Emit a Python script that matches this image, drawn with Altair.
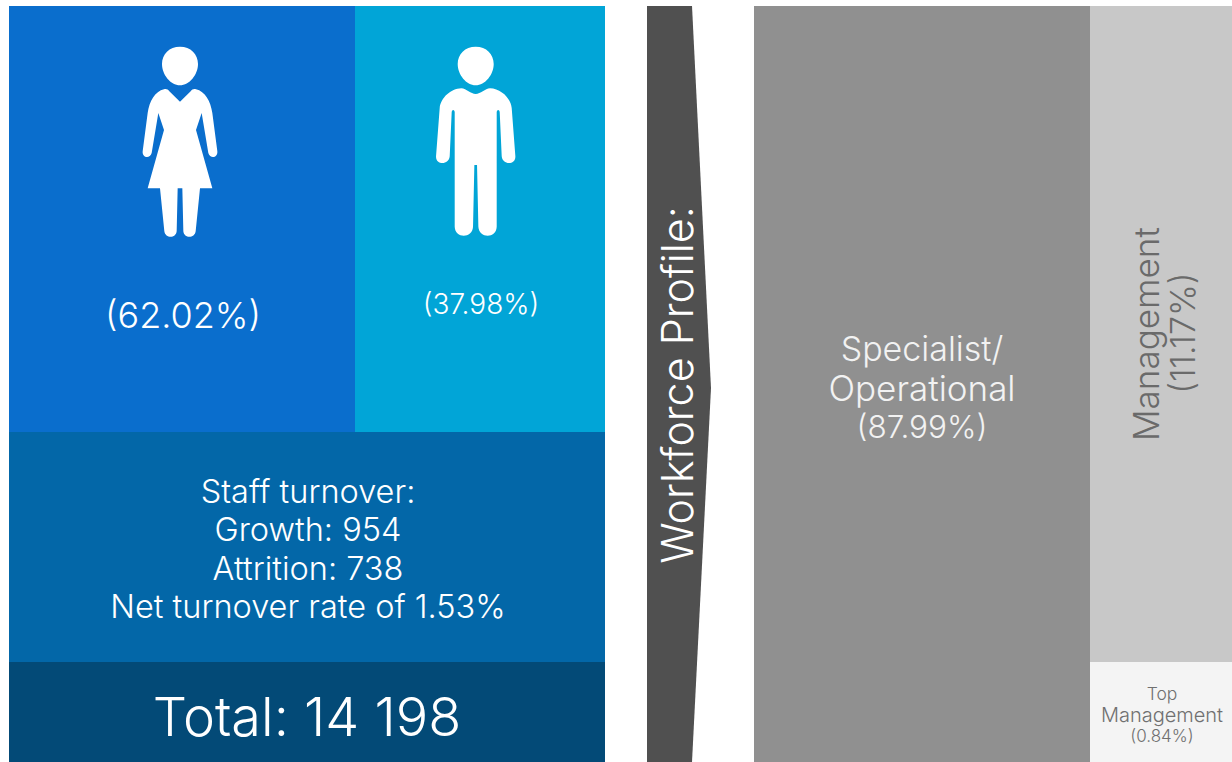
import altair as alt
import pandas as pd

# Panel names and fills
panel_names = ["Women", "Men", "Turnover", "Total", "Specialist", "Management", "Top"]
panel_fills = ["#0A6ECD", "#01A5D7", "#0367A8", "#034A77", "#909090", "#C8C8C8", "#F4F4F4"]

# Panel edges in chart units
panel_x0 = [9, 355, 9, 9, 754, 1090, 1090]
panel_x1 = [355, 605, 605, 605, 1090, 1232, 1232]
panel_y0 = [6, 6, 432, 662, 6, 6, 662]
panel_y1 = [432, 432, 662, 762, 762, 662, 762]

# Outline of the pointer between the two blocks
arrow_y = [6, 388, 762]
arrow_x = [692, 711, 692]
arrow_base = [647, 647, 647]

# Captions
label_text = [
    "(62.02%)", "(37.98%)",
    "Staff turnover:", "Growth: 954", "Attrition: 738", "Net turnover rate of 1.53%",
    "Total: 14 198",
    "Workforce Profile:",
    "Specialist/", "Operational", "(87.99%)",
    "Management", "(11.17%)",
    "Top", "Management", "(0.84%)",
]

# Caption placement and styling
FONT = "Inter"
label_x = [183, 481, 308, 308, 308, 308, 307, 680, 922, 922, 922, 1148, 1185, 1162, 1162, 1162]
label_y = [317, 306, 493, 531, 570, 608, 720, 385, 351, 390, 429, 334, 333, 695, 716, 737]
label_size = [36, 28, 32.5, 32.5, 32.5, 32.5, 54, 43, 34, 35, 31.5, 35, 34, 17.5, 20, 17]
label_angle = [0, 0, 0, 0, 0, 0, 0, 270, 0, 0, 0, 270, 270, 0, 0, 0]
label_color = ["#FFFFFF"] * 8 + ["#F2F2F2"] * 3 + ["#6A6A6A"] * 2 + ["#707070"] * 3

# Figure glyphs, drawn around their own centre
HEAD = "M0,-284 C32,-284 54,-262 54,-232 C54,-200 28,-168 0,-168 C-28,-168 -54,-200 -54,-232 C-54,-262 -32,-284 0,-284 Z "
WOMAN = HEAD + (
    "M0,-119 L32,-150 C36,-156 42,-158 48,-156 C75,-150 92,-120 97,-85 L112,30 C114,50 90,54 85,35 "
    "L65,-85 L48,-34 L97,141 L60,141 L47,270 C44,292 12,292 10,270 L7,141 L-7,141 L-10,270 "
    "C-12,292 -44,292 -47,270 L-60,141 L-97,141 L-48,-34 L-65,-85 L-85,35 C-90,54 -114,50 -112,30 "
    "L-97,-85 C-92,-120 -75,-150 -48,-156 C-42,-158 -36,-156 -32,-150 Z"
)
MAN = HEAD + (
    "M0,-142 C15,-142 28,-158 43,-159 C75,-158 105,-130 108,-100 L119,45 C120,72 80,72 78,45 "
    "L72,-88 C71,-96 64,-96 63,-88 L63,256 C62,292 10,292 8,256 L4,71 L-4,71 L-8,256 "
    "C-10,292 -62,292 -63,256 L-63,-88 C-64,-96 -71,-96 -72,-88 L-78,45 C-80,72 -120,72 -119,45 "
    "L-108,-100 C-105,-130 -75,-158 -43,-159 C-28,-158 -15,-142 0,-142 Z"
)
figure_x = [180, 475.7]
figure_y = [141.3, 141.3]

x_scale = alt.Scale(domain=[0, 1232], nice=False, zero=False)
y_scale = alt.Scale(domain=[762, 0], nice=False, zero=False)
X = alt.X("x:Q", scale=x_scale, axis=None)
Y = alt.Y("y:Q", scale=y_scale, axis=None)

panels = alt.Chart(pd.DataFrame({
    "name": panel_names, "x": panel_x0, "x2": panel_x1,
    "y": panel_y0, "y2": panel_y1, "fill": panel_fills,
})).mark_rect(strokeWidth=0).encode(
    x=X, x2="x2:Q", y=Y, y2="y2:Q", color=alt.Color("fill:N", scale=None),
)

arrow = alt.Chart(pd.DataFrame({
    "x": arrow_x, "x2": arrow_base, "y": arrow_y,
})).mark_area(orient="horizontal", color="#505050", opacity=1).encode(
    x=X, x2="x2:Q", y=alt.Y("y:Q", scale=y_scale, axis=None, sort=None),
)


def figure(path, x, y):
    return alt.Chart(pd.DataFrame({"x": [x], "y": [y]})).mark_point(
        shape=path, size=4 / 9, filled=True, color="#FFFFFF", opacity=1, strokeWidth=0,
    ).encode(x=X, y=Y)


labels = alt.Chart(pd.DataFrame({
    "text": label_text, "x": label_x, "y": label_y, "size": label_size,
    "angle": label_angle, "color": label_color,
})).mark_text(font=FONT, fontWeight=300, align="center", baseline="middle").encode(
    x=X, y=Y, text="text:N",
    size=alt.Size("size:Q", scale=None),
    angle=alt.Angle("angle:Q", scale=None),
    color=alt.Color("color:N", scale=None),
)

chart = alt.layer(
    panels, arrow,
    figure(WOMAN, figure_x[0], figure_y[0]),
    figure(MAN, figure_x[1], figure_y[1]),
    labels,
).properties(
    width=1232, height=762, padding=0, autosize=alt.AutoSizeParams(type="none"),
    background="#FFFFFF",
).configure_view(strokeWidth=0)

chart.save("out.html", embed_options={"renderer": "svg", "actions": False})
